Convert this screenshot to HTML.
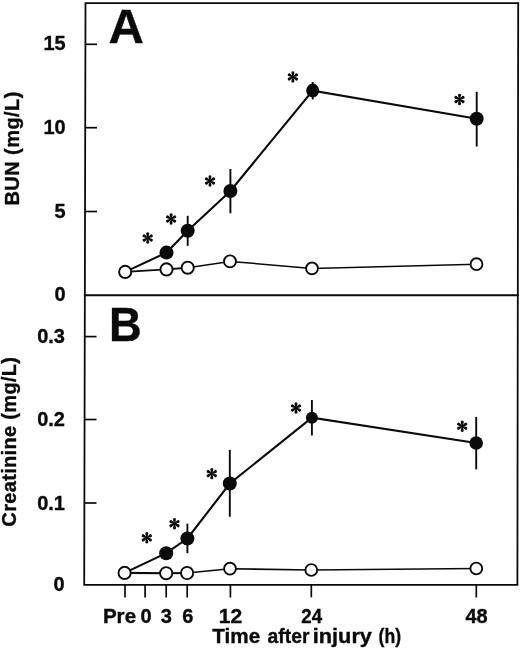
<!DOCTYPE html>
<html>
<head>
<meta charset="utf-8">
<title>Figure</title>
<style>
html,body{margin:0;padding:0;background:#fff;}
body{width:520px;height:650px;overflow:hidden;}
svg{display:block;filter:grayscale(1);}
text{font-family:"Liberation Sans",sans-serif;font-weight:bold;fill:#0a0a0a;stroke:#0a0a0a;stroke-width:0.35px;}
.ax{font-size:20px;}
</style>
</head>
<body>
<svg width="520" height="650" viewBox="0 0 520 650">
<defs>
<g id="ast">
<path id="arm" d="M-0.4,0.3 L-1.45,-3.8 A1.5,1.5 0 1 1 1.45,-3.8 L0.4,0.3 Z"/>
<use href="#arm" transform="rotate(60)"/>
<use href="#arm" transform="rotate(120)"/>
<use href="#arm" transform="rotate(180)"/>
<use href="#arm" transform="rotate(240)"/>
<use href="#arm" transform="rotate(300)"/>
</g>
</defs>
<rect x="0" y="0" width="520" height="650" fill="#fff"/>
<!-- frame -->
<g stroke="#0a0a0a" stroke-width="1.8" fill="none" stroke-linecap="square">
<polygon points="85.5,3.1 518.2,3.1 517.4,584.8 84.2,584.8"/>
<line x1="84.9" y1="295.3" x2="517.8" y2="295.2" stroke-width="2"/>
</g>
<g stroke="#0a0a0a" stroke-width="1.7" fill="none">
<!-- y ticks A -->
<line x1="85.5" y1="44.3" x2="97" y2="44.3"/>
<line x1="85.3" y1="127.7" x2="97" y2="127.7"/>
<line x1="85" y1="211.5" x2="97" y2="211.5"/>
<!-- y ticks B -->
<line x1="84.8" y1="336.6" x2="96.5" y2="336.6"/>
<line x1="84.6" y1="419.5" x2="96.5" y2="419.5"/>
<line x1="84.4" y1="503" x2="96.5" y2="503"/>
<!-- x ticks -->
<line x1="125" y1="585" x2="125" y2="597.5"/>
<line x1="145.1" y1="585" x2="145.1" y2="597.5"/>
<line x1="166.2" y1="585" x2="166.2" y2="597.5"/>
<line x1="187.2" y1="585" x2="187.2" y2="597.5"/>
<line x1="230.4" y1="585" x2="230.4" y2="597.5"/>
<line x1="311.3" y1="585" x2="311.3" y2="597.3"/>
<line x1="476.3" y1="585" x2="476.3" y2="597.5"/>
</g>
<!-- Panel letters -->
<text x="108.5" y="42.6" font-size="49">A</text>
<text x="108.9" y="341.3" font-size="48.5" textLength="32.7" lengthAdjust="spacingAndGlyphs">B</text>
<!-- y labels -->
<g class="ax" text-anchor="end">
<text x="65.7" y="50.2">15</text>
<text x="65.7" y="133.8">10</text>
<text x="65.7" y="217.7">5</text>
<text x="65.7" y="300.9">0</text>
<text x="65" y="342.9">0.3</text>
<text x="65" y="426">0.2</text>
<text x="65" y="509.5">0.1</text>
<text x="64.5" y="590.8">0</text>
</g>
<text class="ax" transform="translate(18.9,148.6) rotate(-90)" text-anchor="middle" textLength="113.9" lengthAdjust="spacing">BUN (mg/L)</text>
<text class="ax" transform="translate(16.1,441.8) rotate(-90)" text-anchor="middle" textLength="169.7" lengthAdjust="spacing">Creatinine (mg/L)</text>
<!-- x labels -->
<g class="ax" text-anchor="middle">
<text x="119.5" y="623" textLength="33.2" lengthAdjust="spacingAndGlyphs">Pre</text>
<text x="146" y="623">0</text>
<text x="166.2" y="623">3</text>
<text x="187.7" y="623">6</text>
<text x="230.5" y="623" textLength="23.4" lengthAdjust="spacingAndGlyphs">12</text>
<text x="311.65" y="623" textLength="20.8" lengthAdjust="spacingAndGlyphs">24</text>
<text x="476.5" y="623">48</text>
</g>
<g class="ax" lengthAdjust="spacingAndGlyphs">
<text x="212.35" y="642.8" textLength="47.8" lengthAdjust="spacingAndGlyphs">Time</text>
<text x="267.6" y="642.8" textLength="41.8" lengthAdjust="spacingAndGlyphs">after</text>
<text x="312.8" y="642.8" textLength="59.1" lengthAdjust="spacingAndGlyphs">injury</text>
<text x="378.6" y="642.8" textLength="22.5" lengthAdjust="spacingAndGlyphs">(h)</text>
</g>
<!-- Panel A data -->
<g stroke="#0a0a0a" fill="none" stroke-width="2.1">
<polyline points="125.2,271.9 166.5,252.6 187.7,230.8 230.4,191 312.7,90.6 476.7,118.8"/>
<polyline stroke-width="1.9" points="125.2,271.9 166.5,269.4 187.7,267.7"/>
<polyline stroke-width="1.5" points="187.7,267.7 230,261.4 312,268.4 476.5,264.2"/>
<g stroke-width="1.9">
<line x1="187.7" y1="215.8" x2="187.7" y2="245.8"/>
<line x1="230.4" y1="169" x2="230.4" y2="213.3"/>
<line x1="312.7" y1="82" x2="312.7" y2="99.5"/>
<line x1="476.7" y1="91.8" x2="476.7" y2="146.5"/>
</g>
</g>
<g fill="#0a0a0a">
<circle cx="166.5" cy="252.6" r="7"/>
<circle cx="187.7" cy="230.8" r="7"/>
<circle cx="230.4" cy="191" r="7"/>
<ellipse cx="312.7" cy="90.6" rx="6.5" ry="7"/>
<circle cx="476.7" cy="118.8" r="7"/>
</g>
<g fill="#fff" stroke="#0a0a0a" stroke-width="1.9">
<circle cx="125.2" cy="271.9" r="6.1"/>
<circle cx="166.5" cy="269.4" r="6.1"/>
<circle cx="187.7" cy="267.7" r="6.1"/>
<circle cx="230" cy="261.4" r="6"/>
<circle cx="312" cy="268.4" r="5.9"/>
<circle cx="476.5" cy="264.2" r="5.9"/>
</g>
<g fill="#0a0a0a">
<use href="#ast" x="147.7" y="238"/>
<use href="#ast" x="171.1" y="219"/>
<use href="#ast" x="210" y="181"/>
<use href="#ast" x="292.9" y="76.9"/>
<use href="#ast" x="459.5" y="99.5"/>
</g>
<!-- Panel B data -->
<g stroke="#0a0a0a" fill="none" stroke-width="2.1">
<polyline points="124.6,572.9 166.2,553.2 187.4,538.5 229.8,483.5 311.9,417.7 476.2,443"/>
<polyline stroke-width="2.1" points="124.6,572.9 166.2,573.2 187.1,573"/>
<polyline stroke-width="1.6" points="187.1,573 230,568.7 311.3,570 476.3,568.5"/>
<g stroke-width="1.9">
<line x1="187.4" y1="523.7" x2="187.4" y2="553.2"/>
<line x1="229.8" y1="449.8" x2="229.8" y2="516.7"/>
<line x1="311.9" y1="400" x2="311.9" y2="435.5"/>
<line x1="476.2" y1="417" x2="476.2" y2="469.3"/>
</g>
</g>
<g fill="#0a0a0a">
<circle cx="166.2" cy="553.2" r="7"/>
<circle cx="187.4" cy="538.5" r="7"/>
<circle cx="229.8" cy="483.5" r="7"/>
<circle cx="311.9" cy="417.7" r="6"/>
<circle cx="476.2" cy="443" r="6.8"/>
</g>
<g fill="#fff" stroke="#0a0a0a" stroke-width="1.9">
<circle cx="124.6" cy="572.9" r="6.1"/>
<circle cx="166.2" cy="573.2" r="6.1"/>
<circle cx="187.1" cy="573" r="6.1"/>
<circle cx="230" cy="568.7" r="5.9"/>
<circle cx="311.3" cy="570" r="5.9"/>
<circle cx="476.3" cy="568.5" r="5.9"/>
</g>
<g fill="#0a0a0a">
<use href="#ast" x="146.8" y="537.8"/>
<use href="#ast" x="174.5" y="523.7"/>
<use href="#ast" x="211.8" y="473.6"/>
<use href="#ast" x="296" y="408"/>
<use href="#ast" x="462.2" y="426.2"/>
</g>
</svg>
</body>
</html>
